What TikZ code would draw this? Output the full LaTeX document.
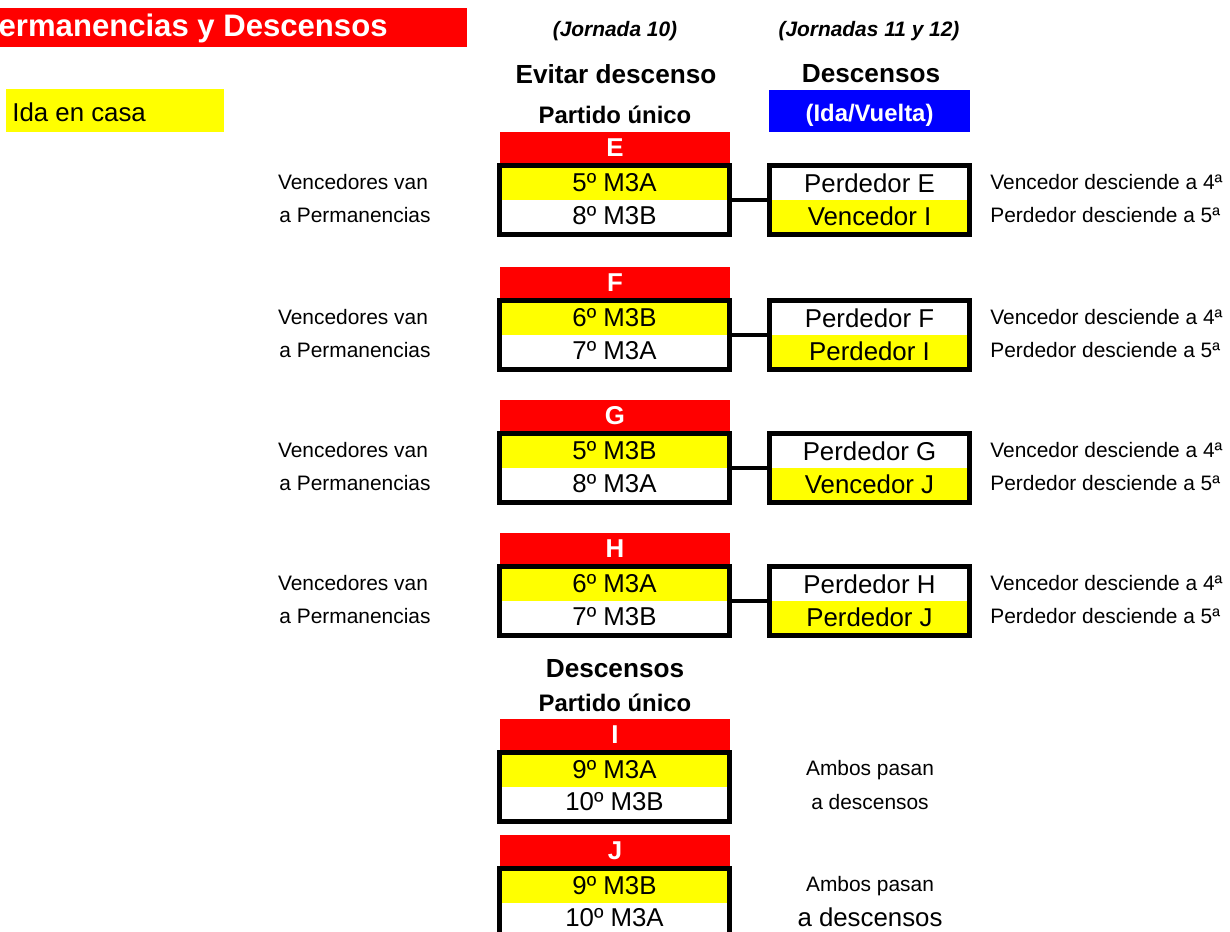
\documentclass[tikz,border=0pt]{standalone}
\usepackage{fontspec}
\setmainfont{Liberation Sans}
\usetikzlibrary{positioning}
\definecolor{rojo}{HTML}{FF0000}
\definecolor{amar}{HTML}{FFFF00}
\definecolor{azul}{HTML}{0000FF}
\tikzset{
  frame/.style={draw=black, line width=3.3pt, minimum width=4.6cm, minimum height=1.38cm, inner sep=0pt},
  rframe/.style={frame, minimum width=4cm},
  bar/.style={fill=rojo, text=white, font=\fontsize{14.7}{17}\selectfont\bfseries, minimum width=4.6cm, minimum height=0.62cm, inner sep=0pt},
  celda/.style={font=\fontsize{14.7}{17}\selectfont, inner sep=0pt, minimum width=4.5cm, minimum height=0.66cm},
  rcelda/.style={celda, minimum width=3.9cm},
  lab/.style={font=\fontsize{11.9}{14}\selectfont, inner sep=0pt},
  hdr/.style={font=\fontsize{14.9}{17}\selectfont\bfseries, inner sep=0pt},
  sub/.style={font=\fontsize{13.6}{16}\selectfont\bfseries, inner sep=0pt},
  jor/.style={font=\fontsize{11.9}{14}\selectfont\bfseries\itshape, inner sep=0pt},
  conn/.style={draw=black, line width=2.8pt},
}
\begin{document}
\begin{tikzpicture}[x=0.02cm, y=-0.02cm]
  \useasboundingbox (0,0) rectangle (1230,931);

  % cabecera
  \node[fill=rojo, minimum width=9.34cm, minimum height=0.78cm, inner sep=0pt, anchor=north west] (barra) at (0,8) {};
  \node[anchor=east, text=white, inner sep=0pt, font=\fontsize{17.7}{20}\selectfont\bfseries] (titulo) at (388,28) {Permanencias y Descensos};
  \node[fill=amar, minimum width=4.36cm, minimum height=0.86cm, inner sep=0pt, anchor=north west] (ida) at (6,89) {};
  \node[anchor=west, font=\fontsize{14.7}{17}\selectfont, inner sep=0pt] (idatxt) at (12,112) {Ida en casa};

  \node[jor] (jor10) at (615,31) {(Jornada 10)};
  \node[jor] (jor11) at (869,31) {(Jornadas 11 y 12)};
  \node[hdr] (evitar) at (616,74) {Evitar descenso};
  \node[hdr] (desc) at (871,74) {Descensos};
  \node[sub] (unico) at (615,115) {Partido único};
  \node[fill=azul, minimum width=4.02cm, minimum height=0.84cm, inner sep=0pt] (idavuelta) at (869.5,110.5) {};
  \node[text=white, font=\fontsize{13.6}{16}\selectfont\bfseries, inner sep=0pt] (idavtxt) at (869.5,115) {(Ida/Vuelta)};

  % evitar descenso
  \foreach \g/\y/\a/\b/\c/\d in {E/132/5º M3A/8º M3B/Perdedor E/Vencedor I,
      F/267/6º M3B/7º M3A/Perdedor F/Perdedor I,
      G/400/5º M3B/8º M3A/Perdedor G/Vencedor J,
      H/533/6º M3A/7º M3B/Perdedor H/Perdedor J}{
    \node[bar] (bar\g) at (615,\y+15.5) {\g};
    \node[celda, fill=amar] (a\g) at (614.5,\y+51) {\a};
    \node[celda] (b\g) at (614.5,\y+84) {\b};
    \node[frame] (l\g) at (614.5,\y+68) {};
    \node[rcelda] (c\g) at (869.5,\y+51) {\c};
    \node[rcelda, fill=amar] (d\g) at (869.5,\y+84) {\d};
    \node[rframe] (r\g) at (869.5,\y+68) {};
    \draw[conn] (l\g.east) -- (r\g.west);
    \node[lab] (v\g) at (353,\y+50) {Vencedores van};
    \node[lab] (p\g) at (355,\y+83) {a Permanencias};
    \node[lab, anchor=west] (x\g) at (990,\y+50) {Vencedor desciende a 4ª};
    \node[lab, anchor=west] (z\g) at (990,\y+83) {Perdedor desciende a 5ª};
  }

  % descensos
  \node[hdr] (desc2) at (615,669) {Descensos};
  \node[sub] (unico2) at (615,703) {Partido único};
  \foreach \g/\y/\a/\b in {I/719/9º M3A/10º M3B, J/835/9º M3B/10º M3A}{
    \node[bar] (bar\g) at (615,\y+15.5) {\g};
    \node[celda, fill=amar] (a\g) at (614.5,\y+51) {\a};
    \node[celda] (b\g) at (614.5,\y+83) {\b};
    \node[frame] (l\g) at (614.5,\y+68) {};
    \node[lab] (m\g) at (870,\y+51) {Ambos pasan};
  }
  \node[lab] (nI) at (870,802) {a descensos};
  \node[celda, minimum width=0pt, minimum height=0pt] (nJ) at (870,917) {a descensos};
\end{tikzpicture}
\end{document}
